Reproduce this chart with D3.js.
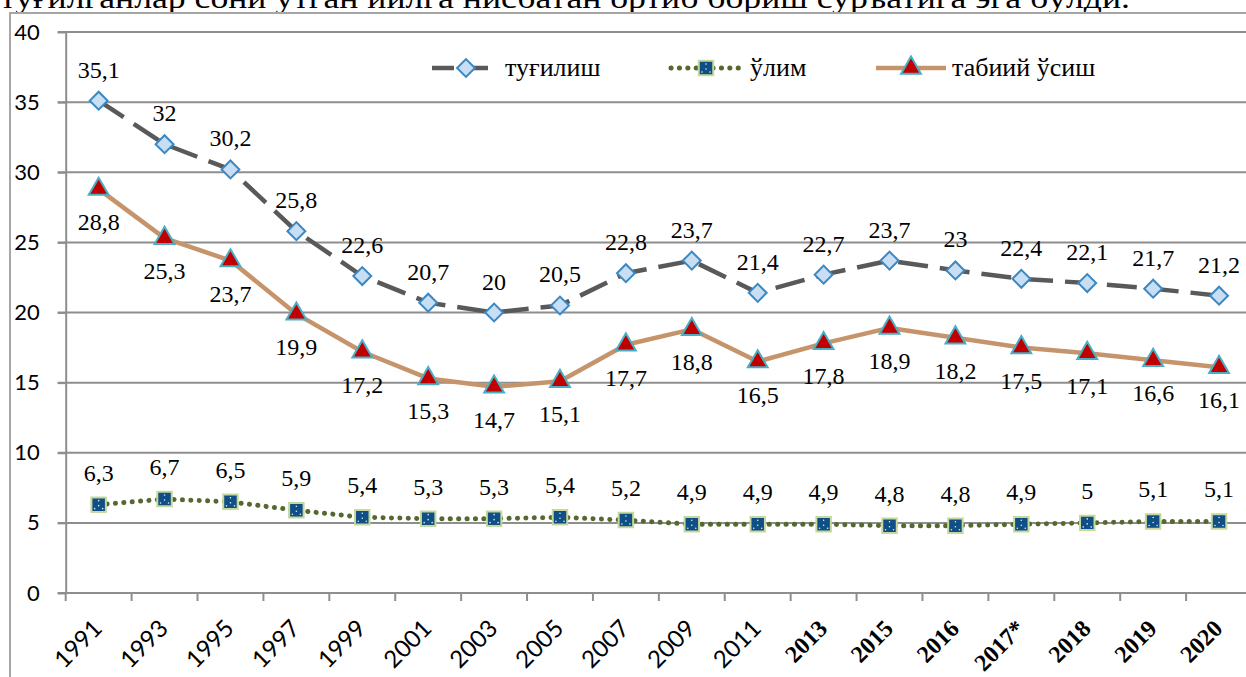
<!DOCTYPE html>
<html>
<head>
<meta charset="utf-8">
<script src="https://cdn.jsdelivr.net/npm/d3@7"></script>
<style>
  body { margin: 0; background: #fff; }
  svg { display: block; }
</style>
</head>
<body>
<svg id="chart" width="1246" height="677"></svg>
<script>
// values
var years = ['1991', '1993', '1995', '1997', '1999', '2001', '2003', '2005', '2007', '2009',
  '2011', '2013', '2015', '2016', '2017*', '2018', '2019', '2020'];
var birth = [35.1, 32, 30.2, 25.8, 22.6, 20.7, 20, 20.5, 22.8, 23.7, 21.4, 22.7, 23.7, 23, 22.4, 22.1, 21.7, 21.2];
var death = [6.3, 6.7, 6.5, 5.9, 5.4, 5.3, 5.3, 5.4, 5.2, 4.9, 4.9, 4.9, 4.8, 4.8, 4.9, 5, 5.1, 5.1];
var growth = [28.8, 25.3, 23.7, 19.9, 17.2, 15.3, 14.7, 15.1, 17.7, 18.8, 16.5, 17.8, 18.9, 18.2, 17.5, 17.1, 16.6, 16.1];
var seriesNames = ['туғилиш', 'ўлим', 'табиий ўсиш'];
var yTicks = [0, 5, 10, 15, 20, 25, 30, 35, 40];
var title = 'туғилганлар сони ўтган йилга нисбатан ортиб бориш суръатига эга бўлди.';

var svg = d3.select('#chart');
var serif = '"Times New Roman", "Liberation Serif", "DejaVu Serif", serif';
var sans = 'Lato, "Open Sans", sans-serif';
var gridColor = '#8e8e8e';

// plot box (window.top is taken, so plain names are avoided)
var pL = 65.7, pR = 1252, pT = 32, pB = 593;

var x = d3.scaleBand().domain(years).range([pL, pR]).padding(0);
var y = d3.scaleLinear().domain([0, 40]).range([pB, pT]);

function cx(i) {
  return x(years[i]) + x.bandwidth() / 2;
}

// running text of the page, cut off at the top
svg.append('text')
  .attr('x', 0)
  .attr('y', 8)
  .attr('font-family', serif)
  .attr('font-size', 30)
  .attr('textLength', 1130)
  .attr('lengthAdjust', 'spacingAndGlyphs')
  .text(title);

// chart frame
svg.append('path')
  .attr('d', 'M10,677V13H1246')
  .attr('fill', 'none')
  .attr('stroke', '#a6a6a6')
  .attr('stroke-width', 2);

// gridlines
svg.append('g').selectAll('line')
  .data(yTicks)
  .enter()
  .append('line')
  .attr('x1', pL - 8)
  .attr('x2', pR)
  .attr('y1', function(d) { return y(d); })
  .attr('y2', function(d) { return y(d); })
  .attr('stroke', gridColor)
  .attr('stroke-width', 2);

// y axis
var yAxis = svg.append('g')
  .attr('transform', 'translate(' + pL + ',0)')
  .call(d3.axisLeft(y).tickValues(yTicks).tickSize(8).tickSizeOuter(0).tickPadding(18));
yAxis.select('.domain').attr('stroke', gridColor).attr('stroke-width', 2);
yAxis.selectAll('.tick line').attr('stroke', gridColor).attr('stroke-width', 2);
yAxis.selectAll('text')
  .attr('font-family', sans)
  .attr('font-size', 22)
  .attr('fill', '#000');

// x tick marks sit between categories
var bounds = years.map(function(d) { return x(d); });
bounds.push(pR);
svg.append('g').selectAll('line')
  .data(bounds)
  .enter()
  .append('line')
  .attr('x1', function(d) { return d; })
  .attr('x2', function(d) { return d; })
  .attr('y1', pB)
  .attr('y2', pB + 8)
  .attr('stroke', gridColor)
  .attr('stroke-width', 2);

// x labels
svg.append('g').selectAll('text')
  .data(years)
  .enter()
  .append('text')
  .attr('transform', function(d, i) {
    return 'translate(' + (cx(i) + 5) + ',' + 630 + ') rotate(-45)';
  })
  .attr('text-anchor', 'end')
  .attr('font-family', function(d, i) { return i >= 11 ? serif : sans; })
  .attr('font-weight', function(d, i) { return i >= 11 ? 'bold' : 'normal'; })
  .attr('font-size', 24)
  .attr('fill', '#000')
  .text(function(d) { return d; });

var line = d3.line()
  .x(function(d, i) { return cx(i); })
  .y(function(d) { return y(d); });

function fmt(v) {
  return String(v).replace('.', ',');
}

// growth line
svg.append('path')
  .datum(growth)
  .attr('d', line)
  .attr('fill', 'none')
  .attr('stroke', '#c6946b')
  .attr('stroke-width', 4.5)
  .attr('stroke-linejoin', 'round');

// birth line, long dash
svg.append('path')
  .datum(birth)
  .attr('d', line)
  .attr('fill', 'none')
  .attr('stroke', '#595959')
  .attr('stroke-width', 4.5)
  .attr('stroke-dasharray', '30,12');

// death line, round dots
svg.append('path')
  .datum(death)
  .attr('d', line)
  .attr('fill', 'none')
  .attr('stroke', '#56682f')
  .attr('stroke-width', 5)
  .attr('stroke-linecap', 'round')
  .attr('stroke-dasharray', '0.1,8.3');

var diamond = d3.symbol().type(d3.symbolSquare).size(160);
var square = d3.symbol().type(d3.symbolSquare).size(210);
var triangle = d3.symbol().type(d3.symbolTriangle).size(170);

function drawDiamond(g, px, py) {
  g.append('path')
    .attr('d', diamond())
    .attr('transform', 'translate(' + px + ',' + py + ') rotate(45)')
    .attr('fill', '#c7def4')
    .attr('stroke', '#3b88c2')
    .attr('stroke-width', 2);
}

function drawSquare(g, px, py) {
  g.append('path')
    .attr('d', square())
    .attr('transform', 'translate(' + px + ',' + py + ')')
    .attr('fill', '#0f4f85')
    .attr('stroke', '#c5d99c')
    .attr('stroke-width', 2);
  // little white specks of the pattern fill
  [[0, -4], [-4, 4], [4, 4], [0, 1]].forEach(function(p) {
    g.append('circle')
      .attr('cx', px + p[0])
      .attr('cy', py + p[1])
      .attr('r', 0.8)
      .attr('fill', '#dfe9f5');
  });
}

function drawTriangle(g, px, py) {
  g.append('path')
    .attr('d', triangle())
    .attr('transform', 'translate(' + px + ',' + py + ')')
    .attr('fill', '#c00000')
    .attr('stroke', '#4aaec4')
    .attr('stroke-width', 2);
}

var marks = svg.append('g');
growth.forEach(function(v, i) { drawTriangle(marks, cx(i), y(v)); });
birth.forEach(function(v, i) { drawDiamond(marks, cx(i), y(v)); });
death.forEach(function(v, i) { drawSquare(marks, cx(i), y(v)); });

// data labels
function labels(data, dy) {
  svg.append('g').selectAll('text')
    .data(data)
    .enter()
    .append('text')
    .attr('x', function(d, i) { return cx(i); })
    .attr('y', function(d) { return y(d) + dy; })
    .attr('text-anchor', 'middle')
    .attr('font-family', serif)
    .attr('font-size', 24)
    .attr('fill', '#000')
    .text(fmt);
}
labels(birth, -23);
labels(growth, 41);
labels(death, -24);

// legend
var lg = svg.append('g');
var ly = 68;
lg.append('line')
  .attr('x1', 432).attr('x2', 500).attr('y1', ly).attr('y2', ly)
  .attr('stroke', '#595959').attr('stroke-width', 4.5)
  .attr('stroke-dasharray', '22,12');
drawDiamond(lg, 466, ly);
lg.append('line')
  .attr('x1', 671).attr('x2', 741).attr('y1', ly).attr('y2', ly)
  .attr('stroke', '#56682f').attr('stroke-width', 5)
  .attr('stroke-linecap', 'round').attr('stroke-dasharray', '0.1,8.3');
drawSquare(lg, 706, ly);
lg.append('line')
  .attr('x1', 876).attr('x2', 946).attr('y1', ly).attr('y2', ly)
  .attr('stroke', '#c6946b').attr('stroke-width', 4.5);
drawTriangle(lg, 911, ly);

var legendX = [505, 750, 952];
lg.selectAll('text')
  .data(seriesNames)
  .enter()
  .append('text')
  .attr('x', function(d, i) { return legendX[i]; })
  .attr('y', ly + 8)
  .attr('font-family', serif)
  .attr('font-size', 26)
  .attr('fill', '#000')
  .text(function(d) { return d; });
</script>
</body>
</html>
